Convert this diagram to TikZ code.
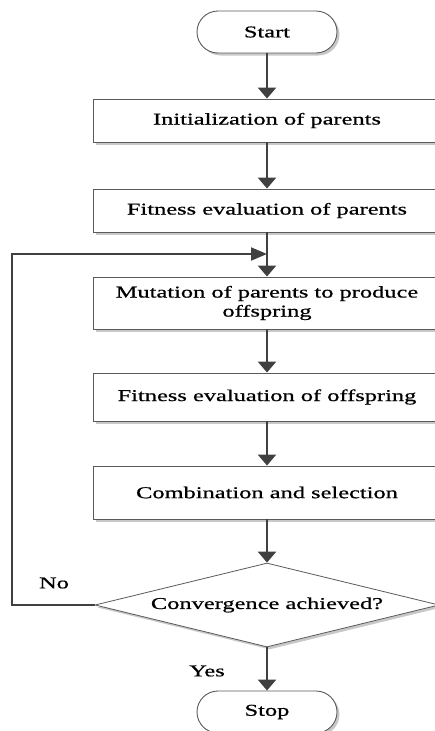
\documentclass[tikz,border=0pt]{standalone}
\usepackage{fontspec}
\setmainfont[FakeStretch=1.48,FakeBold=0.7]{Liberation Serif}
\usetikzlibrary{shapes.geometric,shadows,arrows.meta}
\definecolor{lineg}{HTML}{404040}
\definecolor{edgeg}{HTML}{5A5A5A}
\definecolor{shadg}{HTML}{C8C8C8}
\begin{document}
\begin{tikzpicture}[x=1pt,y=-1pt,
  every node/.style={font=\fontsize{16.5}{19}\selectfont, text=black},
  shad/.style={drop shadow={shadow xshift=2.5pt,shadow yshift=-2.5pt,fill=shadg,opacity=1}},
  procbox/.style={draw=edgeg, line width=0.9pt, fill=white, rectangle, minimum width=348pt, minimum height=43pt, align=center, inner sep=0pt, shad},
  termbox/.style={draw=edgeg, line width=0.9pt, fill=white, rectangle, rounded corners=21pt, minimum width=140pt, minimum height=42pt, inner sep=0pt, shad},
  decbox/.style={draw=edgeg, line width=0.8pt, fill=white, diamond, aspect=4.1, minimum width=344pt, minimum height=84pt, inner sep=0pt, shad},
  flow/.style={draw=lineg, line width=2.6pt, -{Triangle[width=18pt,length=11pt]}},
  back/.style={draw=lineg, line width=2pt, -{Triangle[width=13pt,length=16pt]}},
  lbl/.style={inner sep=0pt}
]
\useasboundingbox (0,0) rectangle (434,731);
\node[termbox] (start) at (267,32) {Start};
\node[procbox] (b1) at (267,120.5) {Initialization of parents};
\node[procbox] (b2) at (267,210.5) {Fitness evaluation of parents};
\node[procbox, minimum height=52pt] (b3) at (267,303) {Mutation of parents to produce\\offspring};
\node[procbox, minimum height=48pt] (b4) at (267,397) {Fitness evaluation of offspring};
\node[procbox, minimum height=53pt] (b5) at (267,492.5) {Combination and selection};
\node[decbox] (dec) at (267,605) {Convergence achieved?};
\node[termbox] (stop) at (267,712) {Stop};
\coordinate (j) at (267,254);
\coordinate (lx) at (12,254);
\node[lbl] (no) at (54,583) {No};
\node[lbl] (yes) at (207,671) {Yes};

\draw[flow] (start) -- (b1);
\draw[flow] (b1) -- (b2);
\draw[flow] (b2) -- (b3);
\draw[flow] (b3) -- (b4);
\draw[flow] (b4) -- (b5);
\draw[flow] (b5) -- (dec);
\draw[flow] (dec) -- (stop);
\draw[back] (dec.west) -- (dec.west -| lx) -- (lx) -- (j);
\end{tikzpicture}
\end{document}
